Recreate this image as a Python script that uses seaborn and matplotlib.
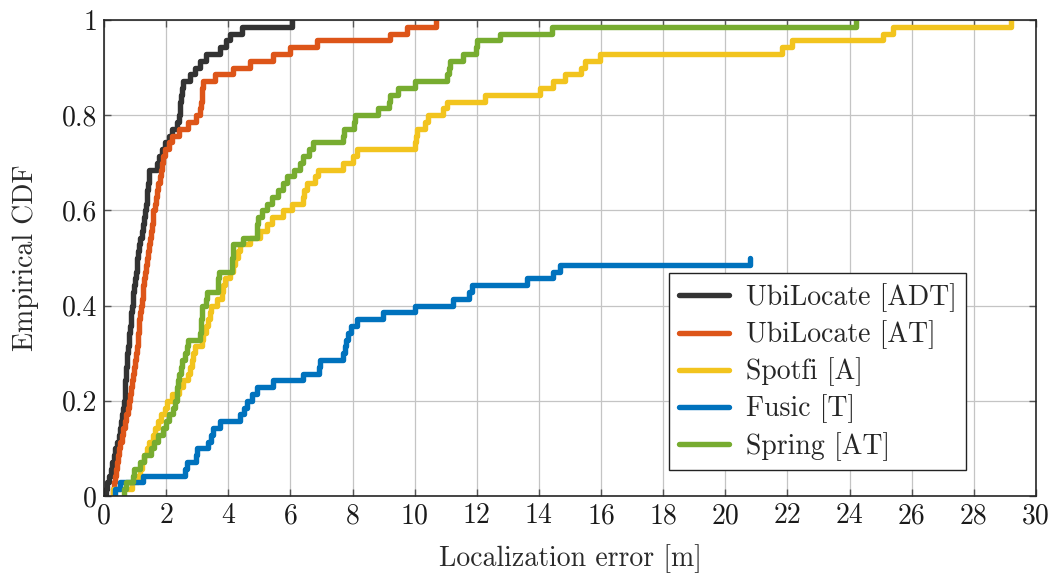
import numpy as np
import pandas as pd
import matplotlib
matplotlib.use("Agg")
import matplotlib.pyplot as plt
import seaborn as sns

# Localization errors [m] (sorted samples); N = total trials
N_TOTAL = 70
ubi_adt = [0.05, 0.10, 0.15, 0.22, 0.27, 0.32, 0.37, 0.42, 0.47, 0.52, 0.56, 0.59, 0.62, 0.65,
           0.66, 0.68, 0.69, 0.70, 0.72, 0.73, 0.75, 0.77, 0.80, 0.82, 0.84, 0.86, 0.88, 0.90,
           0.92, 0.94, 0.97, 1.00, 1.02, 1.05, 1.07, 1.10, 1.14, 1.17, 1.21, 1.25, 1.28, 1.32,
           1.34, 1.37, 1.39, 1.42, 1.44, 1.46, 1.70, 1.78, 1.88, 1.97, 2.08, 2.18, 2.36, 2.42,
           2.44, 2.46, 2.48, 2.50, 2.55, 2.77, 2.93, 3.09, 3.28, 3.73, 3.93, 4.06, 4.43, 6.04]
ubi_at = [0.30, 0.33, 0.36, 0.39, 0.42, 0.45, 0.48, 0.52, 0.57, 0.62, 0.67, 0.72, 0.77, 0.82,
          0.85, 0.88, 0.91, 0.94, 0.97, 1.00, 1.03, 1.06, 1.08, 1.10, 1.12, 1.14, 1.16, 1.18,
          1.21, 1.24, 1.27, 1.30, 1.33, 1.36, 1.40, 1.43, 1.46, 1.48, 1.51, 1.54, 1.57, 1.59,
          1.63, 1.67, 1.71, 1.75, 1.79, 1.83, 1.86, 1.91, 1.96, 2.08, 2.18, 2.40, 2.70, 2.96,
          3.08, 3.11, 3.14, 3.17, 3.20, 3.57, 4.15, 4.70, 5.45, 5.99, 6.87, 9.20, 9.74, 10.69]
spotfi = [0.30, 0.90, 1.10, 1.16, 1.21, 1.30, 1.40, 1.45, 1.59, 1.65, 1.75, 1.85, 1.95, 2.02,
          2.18, 2.40, 2.55, 2.70, 2.77, 2.82, 2.88, 2.93, 3.14, 3.20, 3.28, 3.34, 3.40, 3.46,
          3.63, 3.79, 3.84, 3.89, 4.06, 4.15, 4.22, 4.30, 4.38, 4.70, 5.02, 5.25, 5.40, 5.77,
          6.04, 6.41, 6.45, 6.52, 6.79, 6.90, 7.70, 8.02, 8.13, 10.01, 10.03, 10.06, 10.33, 10.44,
          10.92, 11.03, 12.26, 14.03, 14.46, 14.84, 15.37, 15.48, 15.96, 21.81, 22.13, 25.08, 25.40, 29.21]
fusic = [0.35, 0.51, 1.25, 2.60, 2.66, 2.97, 2.98, 3.36, 3.45, 3.50, 3.73, 4.38, 4.50, 4.60,
         4.75, 4.91, 5.45, 6.41, 6.93, 6.95, 7.70, 7.75, 7.78, 7.85, 7.95, 8.13, 8.99, 10.01,
         11.24, 11.75, 11.83, 13.60, 14.46, 14.68, 20.79]
spring = [0.64, 0.70, 0.94, 0.98, 1.16, 1.30, 1.50, 1.62, 1.75, 1.90, 2.00, 2.10, 2.22, 2.30,
          2.34, 2.36, 2.39, 2.43, 2.48, 2.52, 2.60, 2.66, 2.71, 3.10, 3.12, 3.13, 3.14, 3.16,
          3.28, 3.30, 3.66, 3.68, 3.70, 4.11, 4.13, 4.14, 4.16, 4.48, 4.91, 4.94, 4.97, 5.10,
          5.24, 5.40, 5.60, 5.75, 5.90, 6.10, 6.30, 6.41, 6.60, 6.74, 7.68, 7.72, 8.05, 8.08,
          8.83, 9.18, 9.22, 9.47, 10.01, 11.05, 11.10, 11.14, 11.56, 11.99, 12.02, 12.75, 14.41, 24.22]

labels = ["UbiLocate [ADT]", "UbiLocate [AT]", "Spotfi [A]", "Fusic [T]", "Spring [AT]"]
colors = ["#333333", "#DD5519", "#F2C41E", "#0072BD", "#77AC30"]
x_ticks = list(range(0, 31, 2))
y_ticks = [0, 0.2, 0.4, 0.6, 0.8, 1]
y_tick_labels = ["0", "0.2", "0.4", "0.6", "0.8", "1"]

sns.set_theme(style="whitegrid")
plt.rcParams["font.family"] = ["cmr10", "DejaVu Serif"]
plt.rcParams["axes.formatter.use_mathtext"] = True
plt.rcParams["mathtext.fontset"] = "cm"

fig = plt.figure(figsize=(10.54, 5.76), dpi=100)
ax = fig.add_axes([104 / 1054, 80 / 576, 932 / 1054, 476 / 576])

LW = 3.9
series = [ubi_adt, ubi_at, spotfi, fusic, spring]
for data, lab, col in zip(series, labels, colors):
    s = np.sort(np.asarray(data, dtype=float))
    xs = np.concatenate([[s[0]], s])
    ys = np.concatenate([[0.0], np.arange(1, len(s) + 1) / N_TOTAL])
    df = pd.DataFrame({"x": xs, "y": ys})
    sns.lineplot(data=df, x="x", y="y", ax=ax, color=col, linewidth=LW,
                 drawstyle="steps-post", estimator=None, sort=False, label=lab)

ax.set_xlim(0, 30)
ax.set_ylim(0, 1)
ax.set_xticks(x_ticks)
ax.set_xticklabels([str(t) for t in x_ticks])
ax.set_yticks(y_ticks)
ax.set_yticklabels(y_tick_labels)
ax.grid(True, color="#c4c4c4", linewidth=0.9)
ax.set_facecolor("white")
for sp in ax.spines.values():
    sp.set_color("#262626")
    sp.set_linewidth(1.2)
ax.tick_params(axis="both", which="both", direction="in", length=5, width=1,
               color="#555555", labelsize=20, top=True, right=True, bottom=True, left=True,
               labelcolor="#1a1a1a", pad=5)
ax.set_xlabel("Localization error [m]", fontsize=20, color="#2a2a2a", labelpad=11)
ax.set_ylabel("Empirical CDF", fontsize=20, color="#2a2a2a", labelpad=16)

leg = ax.legend(loc="lower right", bbox_to_anchor=(0.925, 0.054), fontsize=20,
                frameon=True, fancybox=False, edgecolor="#222222", framealpha=1,
                handlelength=1.8, handletextpad=0.6, borderpad=0.35, labelspacing=0.3,
                borderaxespad=0.0)
leg.get_frame().set_linewidth(1.0)
for line in leg.get_lines():
    line.set_linewidth(LW)

fig.savefig("out.png", dpi=100, facecolor="white")
